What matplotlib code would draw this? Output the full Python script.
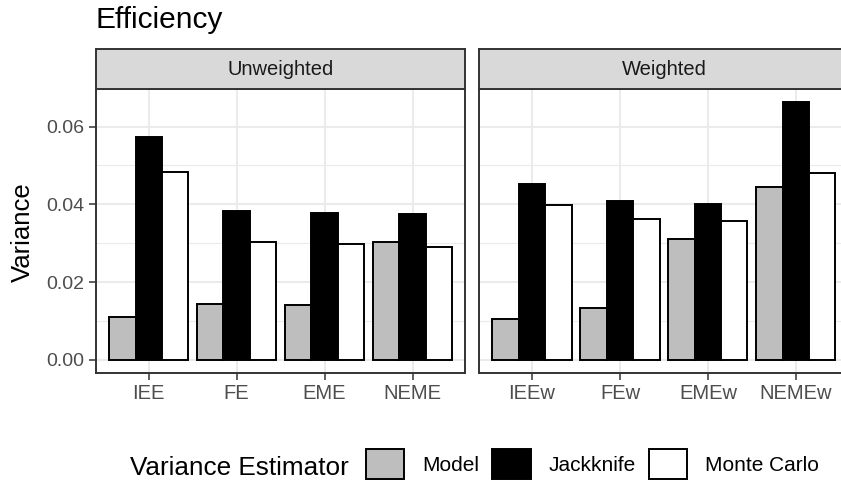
import numpy as np
import matplotlib.pyplot as plt

plt.rcParams["font.family"] = ["Liberation Sans", "DejaVu Sans"]

# ---- data ----
cats_unweighted = ["IEE", "FE", "EME", "NEME"]
cats_weighted = ["IEEw", "FEw", "EMEw", "NEMEw"]
estimators = ["Model", "Jackknife", "Monte Carlo"]

model_unw = [0.0109, 0.0143, 0.0141, 0.0302]
jack_unw = [0.0574, 0.0383, 0.0379, 0.0374]
mc_unw = [0.0484, 0.0302, 0.0299, 0.0289]

model_w = [0.0104, 0.0133, 0.0312, 0.0445]
jack_w = [0.0452, 0.0409, 0.0400, 0.0663]
mc_w = [0.0398, 0.0363, 0.0358, 0.0481]

yticks = [0.00, 0.02, 0.04, 0.06]
ytick_labels = ["0.00", "0.02", "0.04", "0.06"]

# ---- style ----
FILLS = ["#BEBEBE", "#000000", "#FFFFFF"]
BORDER = "#333333"
GRID = "#EBEBEB"
W, H = 841, 486

fig = plt.figure(figsize=(W / 100, H / 100), dpi=100)

def fx(px):
    return px / W

def fy(px):
    return 1 - px / H

panel_top, panel_bot = 89.3, 372.7
panel_w = 369.3
lefts = [96.0, 479.3]
strip_top = 49.3

panels = [
    ("Unweighted", cats_unweighted, [model_unw, jack_unw, mc_unw]),
    ("Weighted", cats_weighted, [model_w, jack_w, mc_w]),
]

handles = []
for i, (strip_label, cats, series) in enumerate(panels):
    ax = fig.add_axes([fx(lefts[i]), fy(panel_bot), panel_w / W,
                       (panel_bot - panel_top) / H])
    x = np.arange(1, len(cats) + 1)
    bw = 0.3
    hs = []
    for k, vals in enumerate(series):
        b = ax.bar(x + (k - 1) * bw, vals, width=bw, color=FILLS[k],
                   edgecolor="black", linewidth=1.4, zorder=3,
                   label=estimators[k])
        hs.append(b)
    if i == 0:
        handles = hs

    ax.set_xlim(0.4, 4.6)
    ax.set_ylim(-0.00332, 0.0696)
    ax.set_xticks(x)
    ax.set_xticklabels(cats)
    ax.set_yticks(yticks)
    ax.set_yticks([0.01, 0.03, 0.05], minor=True)
    ax.tick_params(axis="y", which="minor", length=0)
    if i == 0:
        ax.set_yticklabels(ytick_labels)
        ax.tick_params(axis="y", which="major", length=5, width=1.1,
                       color=BORDER, labelsize=14, labelcolor="#4D4D4D", pad=3.5)
    else:
        ax.tick_params(axis="y", which="major", length=0, labelleft=False)
    ax.tick_params(axis="x", length=5, width=1.1, color=BORDER,
                   labelsize=14.5, labelcolor="#4D4D4D", pad=3)

    ax.grid(True, which="major", color=GRID, linewidth=1.5, zorder=0)
    ax.grid(True, which="minor", axis="y", color=GRID, linewidth=0.8, zorder=0)
    ax.set_axisbelow(True)
    for s in ax.spines.values():
        s.set_color(BORDER)
        s.set_linewidth(1.4)

    # facet strip
    sax = fig.add_axes([fx(lefts[i]), fy(panel_top), panel_w / W,
                        (panel_top - strip_top) / H])
    sax.set_facecolor("#D9D9D9")
    sax.set_xticks([])
    sax.set_yticks([])
    for s in sax.spines.values():
        s.set_color(BORDER)
        s.set_linewidth(1.4)
    sax.text(0.5, 0.5, strip_label, transform=sax.transAxes, ha="center",
             va="center", fontsize=14.5, color="#1A1A1A")

fig.text(fx(96), fy(28), "Efficiency", fontsize=21.5, ha="left",
         va="baseline", color="black")
fig.text(fx(22.5), fy(232), "Variance", fontsize=18.5, rotation=90,
         ha="center", va="center", color="black")

fig.text(fx(130), fy(475), "Variance Estimator", fontsize=18.8,
         ha="left", va="baseline", color="black")
fig.legend(handles=handles, labels=estimators, loc="center left",
           bbox_to_anchor=(fx(366), fy(464)), ncol=3, frameon=False,
           fontsize=15, handlelength=1.83, handleheight=1.83,
           handletextpad=0.85, columnspacing=0.65, borderpad=0,
           borderaxespad=0)

fig.savefig("out.png", dpi=100)
